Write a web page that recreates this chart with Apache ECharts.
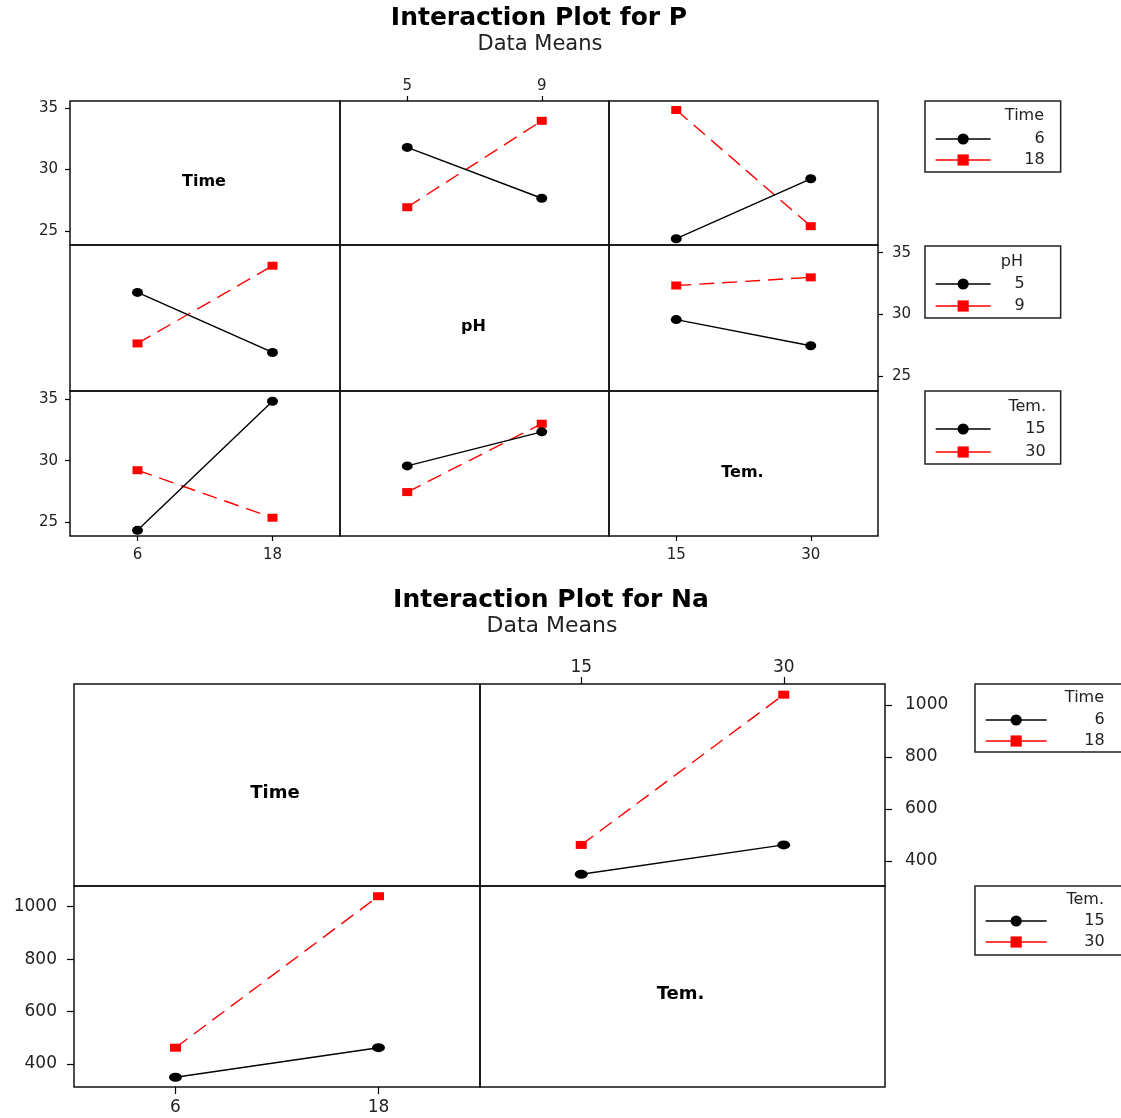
<!DOCTYPE html>
<html><head><meta charset="utf-8">
<script src="https://cdn.jsdelivr.net/npm/echarts@6/dist/echarts.min.js"></script>
<style>html,body{margin:0;padding:0;background:#fff}#c{width:1121px;height:1118px}</style>
</head><body><div id="c"></div>
<script>
// ---------- data ----------
const factorNamesP = ['Time', 'pH', 'Tem.'];
const timeLevels = [6, 18];
const phLevels = [5, 9];
const temLevels = [15, 30];

// Interaction Plot for P : cell means
const pTime6ByPh = [31.78, 27.65];   // Time=6  at pH 5, 9
const pTime18ByPh = [26.92, 33.94];  // Time=18 at pH 5, 9
const pTime6ByTem = [24.36, 29.23];  // Time=6  at Tem 15, 30
const pTime18ByTem = [34.82, 25.38]; // Time=18 at Tem 15, 30
const pPh5ByTem = [29.58, 27.46];    // pH=5 at Tem 15, 30
const pPh9ByTem = [32.34, 33.0];     // pH=9 at Tem 15, 30

// Interaction Plot for Na : cell means
const factorNamesNa = ['Time', 'Tem.'];
const naTime6ByTem = [349, 462];     // Time=6  at Tem 15, 30
const naTime18ByTem = [462, 1040];   // Time=18 at Tem 15, 30

// tick labels
const pYTicks = [25, 30, 35];
const naYTicks = [400, 600, 800, 1000];

// ---------- helpers ----------
const FF = '"DejaVu Sans", Verdana, sans-serif';
const pLevels = [timeLevels, phLevels, temLevels];
const pTables = {'0-1': [pTime6ByPh, pTime18ByPh], '0-2': [pTime6ByTem, pTime18ByTem], '1-2': [pPh5ByTem, pPh9ByTem]};
function meanP(a, ia, b, ib) { return a < b ? pTables[a + '-' + b][ia][ib] : pTables[b + '-' + a][ib][ia]; }
const naLevels = [timeLevels, temLevels];
const naTables = {'0-1': [naTime6ByTem, naTime18ByTem]};
function meanNa(a, ia, b, ib) { return a < b ? naTables[a + '-' + b][ia][ib] : naTables[b + '-' + a][ib][ia]; }

const grids = [], xAxes = [], yAxes = [], series = [], titles = [], legends = [];

function axisCfg(gi, range, pos, ticks, show, margin, fs, tickLen) {
  return {
    type: 'value', gridIndex: gi, min: range[0], max: range[1], position: pos,
    axisLine: {show: false, onZero: false}, splitLine: {show: false},
    axisTick: {show: show, customValues: ticks, length: tickLen, lineStyle: {color: '#000', width: 1.2}},
    axisLabel: {show: show, customValues: ticks, margin: margin, fontSize: fs, color: '#222', fontFamily: FF,
      formatter: v => String(v)}
  };
}

function addPanelSet(cfg) {
  const n = cfg.levels.length;
  for (let r = 0; r < n; r++) {
    for (let c = 0; c < n; c++) {
      const gi = grids.length;
      grids.push({
        left: cfg.colX[c], top: cfg.rowY[r],
        width: cfg.colX[c + 1] - cfg.colX[c], height: cfg.rowY[r + 1] - cfg.rowY[r],
        show: true, borderColor: '#111', borderWidth: 1.5, backgroundColor: 'transparent',
        containLabel: false, outerBoundsMode: 'none'
      });
      const k = r + '-' + c;
      const xPos = cfg.topX.includes(k) ? 'top' : 'bottom';
      const xShow = cfg.topX.includes(k) || cfg.bottomX.includes(k);
      const yPos = cfg.rightY.includes(k) ? 'right' : 'left';
      const yShow = cfg.rightY.includes(k) || cfg.leftY.includes(k);
      xAxes.push(axisCfg(gi, cfg.xRange[c], xPos, cfg.levels[c], xShow,
        xPos === 'top' ? cfg.xTopMargin : cfg.xBotMargin, cfg.fs, cfg.tickLen));
      yAxes.push(axisCfg(gi, cfg.yRange[r], yPos, cfg.yTicks, yShow,
        yPos === 'right' ? cfg.yRightMargin : cfg.yLeftMargin, cfg.fs, cfg.tickLen));
      if (r === c) {
        titles.push({
          text: cfg.names[r], left: (cfg.colX[c] + cfg.colX[c + 1]) / 2 + cfg.diagDx,
          top: (cfg.rowY[r] + cfg.rowY[r + 1]) / 2 + cfg.diagDy, padding: 0,
          textAlign: 'center', textVerticalAlign: 'middle',
          textStyle: {fontSize: cfg.diagFs, fontWeight: 'bold', color: '#000', fontFamily: FF}
        });
        continue;
      }
      // red (second trace level) first so black draws on top
      for (let li = cfg.levels[r].length - 1; li >= 0; li--) {
        const red = li === 1;
        const data = cfg.levels[c].map((xv, j) => [xv, cfg.mean(r, li, c, j)]);
        series.push({
          type: 'line', name: String(cfg.levels[r][li]), xAxisIndex: gi, yAxisIndex: gi,
          data: data, symbol: red ? 'rect' : 'circle',
          symbolSize: red ? cfg.sqSize : cfg.circSize,
          itemStyle: {color: red ? '#ff0000' : '#000'},
          lineStyle: {color: red ? '#ff0000' : '#000', width: 1.4, type: red ? [15, 8] : 'solid'},
          emphasis: {disabled: true}, animation: false, silent: true
        });
      }
    }
  }
}

// ---------- top: P ----------
addPanelSet({
  names: factorNamesP, levels: pLevels, mean: meanP,
  colX: [70, 340, 609, 878], rowY: [101, 245, 391, 536],
  xRange: [[0, 24], [3, 11], [7.5, 37.5]],
  yRange: [[23.85, 35.55], [23.8, 35.62], [23.9, 35.65]],
  yTicks: pYTicks,
  leftY: ['0-0', '2-0'], rightY: ['1-2'], topX: ['0-1'], bottomX: ['2-0', '2-2'],
  xTopMargin: 7, xBotMargin: 12, yLeftMargin: 12, yRightMargin: 14, fs: 15, tickLen: 5,
  diagFs: 16, diagDx: -1, diagDy: 9,
  circSize: [11, 9], sqSize: [10, 8]
});

// ---------- bottom: Na ----------
addPanelSet({
  names: factorNamesNa, levels: naLevels, mean: meanNa,
  colX: [74, 480, 885], rowY: [684, 886, 1087],
  xRange: [[0, 24], [7.5, 37.5]],
  yRange: [[304, 1081], [312, 1079]],
  yTicks: naYTicks,
  leftY: ['1-0'], rightY: ['0-1'], topX: ['0-1'], bottomX: ['1-0'],
  xTopMargin: 8, xBotMargin: 12, yLeftMargin: 17, yRightMargin: 20, fs: 17, tickLen: 7,
  diagFs: 18, diagDx: -2, diagDy: 8,
  circSize: [13, 9], sqSize: [11, 8]
});

// ---------- main titles ----------
function mainTitle(text, x, y, fs, bold) {
  titles.push({text: text, left: x, top: y, padding: 0, textAlign: 'center', textVerticalAlign: 'middle',
    textStyle: {fontSize: fs, fontWeight: bold ? 'bold' : 'normal', color: bold ? '#000' : '#222', fontFamily: FF}});
}
mainTitle('Interaction Plot for P', 539, 18, 25, true);
mainTitle('Data Means', 540, 45, 21, false);
mainTitle('Interaction Plot for Na', 551, 600, 25, true);
mainTitle('Data Means', 552, 626, 22, false);

// ---------- legends ----------
function addLegend(title, names, left, top, pad, gap, itemW, textW, titleRight, titleY, fs) {
  legends.push({
    data: names, left: left, top: top, orient: 'vertical', padding: pad, itemGap: gap,
    itemWidth: itemW, itemHeight: 14, selectedMode: false,
    borderColor: '#222', borderWidth: 1.5, backgroundColor: '#fff',
    lineStyle: {type: 'solid', width: 1.3},
    formatter: n => '{r|' + n + '}',
    textStyle: {fontSize: fs, color: '#222', fontFamily: FF, lineHeight: 14,
      rich: {r: {width: textW, align: 'right', fontSize: fs, lineHeight: 14, fontFamily: FF, color: '#222'}}}
  });
  titles.push({text: title, left: titleRight, top: titleY, padding: 0, textAlign: 'right', textVerticalAlign: 'middle',
    textStyle: {fontSize: fs, fontWeight: 'normal', color: '#222', fontFamily: FF}});
}
addLegend('Time', ['6', '18'], 925, 101, [30, 16, 4, 10], 5, 55, 49, 1044, 116, 16);
addLegend('pH', ['5', '9'], 925, 246, [30, 36, 4, 10], 6, 55, 29, 1023, 262, 16);
addLegend('Tem.', ['15', '30'], 925, 391, [30, 15, 4, 10], 7, 55, 50, 1046, 407, 16);
addLegend('Time', ['6', '18'], 975, 684, [28, 30, 3, 10], 5, 61, 53, 1104, 698, 16);
addLegend('Tem.', ['15', '30'], 975, 886, [27, 30, 5, 10], 5, 61, 53, 1104, 900, 16);

const chart = echarts.init(document.getElementById('c'), null, {renderer: 'canvas'});
chart.setOption({
  animation: false, backgroundColor: '#fff',
  title: titles, legend: legends, grid: grids, xAxis: xAxes, yAxis: yAxes, series: series
});
</script></body></html>
